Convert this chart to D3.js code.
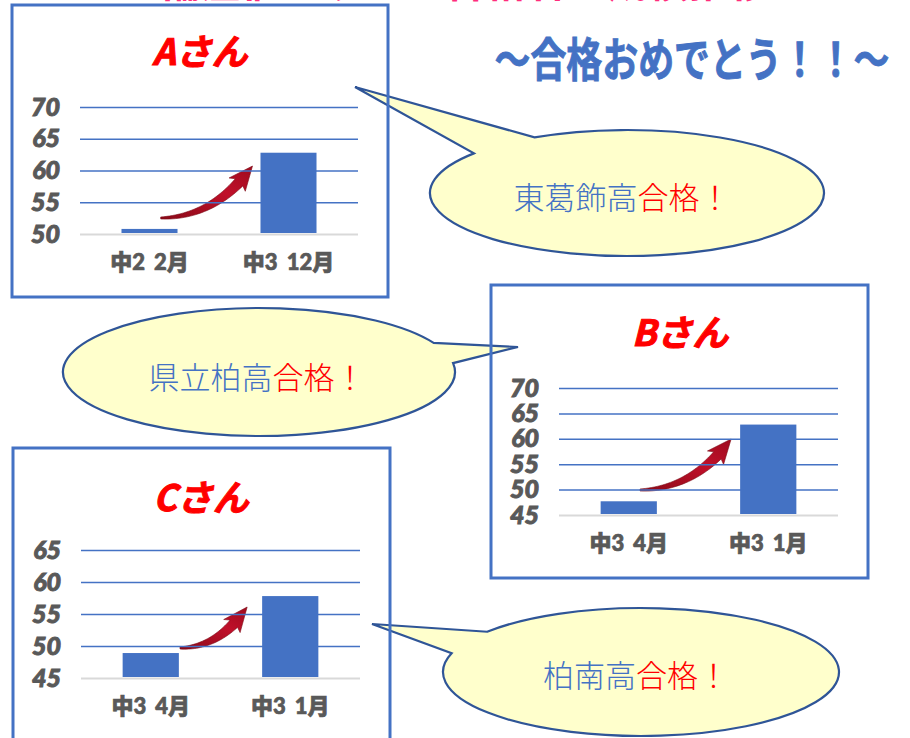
<!DOCTYPE html>
<html><head><meta charset="utf-8">
<script src="https://cdn.jsdelivr.net/npm/d3@7"></script>
<style>
html,body{margin:0;padding:0;background:#fff;overflow:hidden}
svg{display:block}
</style></head><body>
<svg id="c" width="910" height="738"></svg>
<script>
// ---- data ----
const panelTitles = ["Aさん", "Bさん", "Cさん"];
const categoriesA = ["中2 2月", "中3 12月"];
const valuesA = [50.8, 62.8];
const ticksA = [50, 55, 60, 65, 70];
const categoriesB = ["中3 4月", "中3 1月"];
const valuesB = [47.7, 62.8];
const ticksB = [45, 50, 55, 60, 65, 70];
const categoriesC = ["中3 4月", "中3 1月"];
const valuesC = [48.9, 57.8];
const ticksC = [45, 50, 55, 60, 65];
const schoolNames = ["東葛飾高", "県立柏高", "柏南高"];
const passText = "合格！";
const headline = "～合格おめでとう！！～";
const topTitle = "偏差値アップ！合格者の成績推移";

// ---- layout ----
const BLUE = "#4472C4", RED = "#FF0000", GREY = "#595959";
const FONT = "'Noto Sans CJK JP','Noto Sans',sans-serif";
const NUMFONT = "Lato,'Noto Sans CJK JP',sans-serif";
const svg = d3.select("#c");
svg.append("rect").attr("width", 910).attr("height", 738).attr("fill", "#fff");

const defs = svg.append("defs");
const grad = defs.append("linearGradient").attr("id", "arrowGrad")
  .attr("x1", "0%").attr("y1", "100%").attr("x2", "100%").attr("y2", "0%");
grad.append("stop").attr("offset", "0%").attr("stop-color", "#8a0a18");
grad.append("stop").attr("offset", "60%").attr("stop-color", "#c0102a");
grad.append("stop").attr("offset", "100%").attr("stop-color", "#9e0b1e");

// top (cropped) pink title
svg.append("text").attr("x", 465).attr("y", -3).attr("text-anchor", "middle")
  .attr("font-family", FONT).attr("font-weight", 700).attr("font-size", 40)
  .attr("fill", "#ff2d7d").attr("textLength", 610).attr("lengthAdjust", "spacingAndGlyphs")
  .text(topTitle);

// headline
svg.append("text").attr("transform", "translate(692,56) scale(1,1.15)")
  .attr("text-anchor", "middle").attr("dominant-baseline", "central")
  .attr("font-family", FONT).attr("font-weight", 700).attr("font-size", 40)
  .attr("fill", BLUE).attr("stroke", BLUE).attr("stroke-width", 0.8)
  .attr("textLength", 395).attr("lengthAdjust", "spacingAndGlyphs")
  .text(headline);

// ---- callout bubbles ----
const bubbles = [
  {name: schoolNames[0], cx: 627, cy: 193, rx: 197, ry: 63, a1: -118, a2: -141, tip: [355, 87], tx: 622, ty: 195},
  {name: schoolNames[1], cx: 259, cy: 372, rx: 196, ry: 64, a1: -27, a2: -8, tip: [518, 347], tx: 257, ty: 375},
  {name: schoolNames[2], cx: 641, cy: 672, rx: 198, ry: 64, a1: -141, a2: -163, tip: [372, 624], tx: 636, ty: 673}
];
bubbles.forEach(b => {
  const P = a => [b.cx + b.rx * Math.cos(a * Math.PI / 180), b.cy + b.ry * Math.sin(a * Math.PI / 180)];
  const p1 = P(b.a1), p2 = P(b.a2);
  const travel = ((b.a2 - b.a1) % 360 + 360) % 360;
  const sweep = travel > 180 ? 1 : 0;
  const d = `M${p1[0]},${p1[1]} A${b.rx},${b.ry} 0 1 ${sweep} ${p2[0]},${p2[1]} L${b.tip[0]},${b.tip[1]} Z`;
  svg.append("path").attr("d", d).attr("fill", "#FFFFCC")
    .attr("stroke", "#2F5597").attr("stroke-width", 2.2).attr("stroke-linejoin", "miter");
  const t = svg.append("text").attr("x", b.tx).attr("y", b.ty).attr("text-anchor", "middle")
    .attr("dominant-baseline", "central").attr("font-family", FONT)
    .attr("font-weight", 300).attr("font-size", 31);
  t.append("tspan").attr("fill", BLUE).text(b.name);
  t.append("tspan").attr("fill", RED).text(passText);
});

// ---- arrow helper ----
function arrowPath(x0, y0, x1, y1) {
  const C = [x0 + (x1 - x0) * 0.6, y0 + (y1 - y0) * 0.02];
  const B = t => [(1 - t) * (1 - t) * x0 + 2 * (1 - t) * t * C[0] + t * t * x1,
                  (1 - t) * (1 - t) * y0 + 2 * (1 - t) * t * C[1] + t * t * y1];
  const D = t => [2 * (1 - t) * (C[0] - x0) + 2 * t * (x1 - C[0]),
                  2 * (1 - t) * (C[1] - y0) + 2 * t * (y1 - C[1])];
  const headLen = 21;
  let tEnd = 1;
  for (let t = 1; t > 0; t -= 0.005) {
    const p = B(t);
    if (Math.hypot(x1 - p[0], y1 - p[1]) >= headLen) { tEnd = t; break; }
  }
  const L = [], R = [];
  const N = 30;
  for (let i = 0; i <= N; i++) {
    const t = tEnd * i / N;
    const p = B(t), d = D(t), len = Math.hypot(d[0], d[1]);
    const n = [-d[1] / len, d[0] / len];
    const w = 1 + 4.2 * Math.pow(i / N, 0.9);
    L.push([p[0] + n[0] * w, p[1] + n[1] * w]);
    R.push([p[0] - n[0] * w, p[1] - n[1] * w]);
  }
  const base = B(tEnd);
  const dir = [x1 - base[0], y1 - base[1]], dl = Math.hypot(dir[0], dir[1]);
  const n = [-dir[1] / dl, dir[0] / dl];
  const hw = 10.5;
  const back = [base[0] - dir[0] / dl * 3, base[1] - dir[1] / dl * 3];
  const pts = [...L, [back[0] + n[0] * hw, back[1] + n[1] * hw], [x1, y1],
               [back[0] - n[0] * hw, back[1] - n[1] * hw], ...R.reverse()];
  return "M" + pts.map(p => p.join(",")).join("L") + "Z";
}

// ---- panels ----
const panels = [
  {title: panelTitles[0], cats: categoriesA, vals: valuesA, ticks: ticksA,
   box: [12, 5, 376, 292], tpos: [200, 49], plot: {x0: 80, x1: 358, y0: 234, y1: 107},
   arrow: {tk: 0.7, tdy: 16, hdx: -8, hdy: 68}},
  {title: panelTitles[1], cats: categoriesB, vals: valuesB, ticks: ticksB,
   box: [491, 285, 377, 293], tpos: [680, 330], plot: {x0: 559, x1: 838, y0: 515, y1: 388},
   arrow: {tk: 0.7, tdy: 25, hdx: -9, hdy: 76}},
  {title: panelTitles[2], cats: categoriesC, vals: valuesC, ticks: ticksC,
   box: [13, 448, 377, 310], tpos: [201, 495], plot: {x0: 81, x1: 360, y0: 678, y1: 550},
   arrow: {tk: 1.02, tdy: 30, hdx: -15, hdy: 71}}
];

panels.forEach(p => {
  const g = svg.append("g");
  const x = d3.scaleBand().domain(p.cats).range([p.plot.x0, p.plot.x1])
    .paddingInner(0.597).paddingOuter(0.2985);
  const y = d3.scaleLinear().domain([d3.min(p.ticks), d3.max(p.ticks)])
    .range([p.plot.y0, p.plot.y1]);
  const bw = x.bandwidth();

  // title
  g.append("text").attr("x", p.tpos[0]).attr("y", p.tpos[1]).attr("text-anchor", "middle")
    .attr("dominant-baseline", "central").attr("font-family", FONT)
    .attr("font-weight", 700).attr("font-style", "italic").attr("font-size", 36)
    .attr("fill", RED).attr("stroke", RED).attr("stroke-width", 1).text(p.title);

  // arrow (behind gridlines)
  const ax0 = x(p.cats[0]) + bw * p.arrow.tk, ay0 = y.range()[0] - p.arrow.tdy;
  const ax1 = x(p.cats[1]) + p.arrow.hdx, ay1 = y.range()[0] - p.arrow.hdy;
  g.append("path").attr("d", arrowPath(ax0, ay0, ax1, ay1))
    .attr("fill", "url(#arrowGrad)").attr("stroke", "#7a0814").attr("stroke-width", 0.6);

  // y axis with gridlines
  const yAxis = d3.axisLeft(y).tickValues(p.ticks).tickSize(-(p.plot.x1 - p.plot.x0))
    .tickPadding(20).tickFormat(d3.format("d"));
  const ya = g.append("g").attr("transform", `translate(${p.plot.x0},0)`).call(yAxis);
  ya.select(".domain").remove();
  ya.selectAll(".tick line").attr("stroke", d => d === d3.min(p.ticks) ? "#D9D9D9" : BLUE)
    .attr("stroke-width", d => d === d3.min(p.ticks) ? 2 : 1.5);
  ya.selectAll(".tick text").attr("font-family", NUMFONT).attr("font-weight", 900)
    .attr("font-style", "italic").attr("font-size", 25).attr("fill", GREY)
    .attr("stroke", GREY).attr("stroke-width", 1);

  // bars
  g.selectAll("rect.bar").data(p.vals).join("rect").attr("class", "bar")
    .attr("x", (d, i) => x(p.cats[i])).attr("width", bw)
    .attr("y", d => y(d)).attr("height", d => y.range()[0] - y(d) - 1)
    .attr("fill", BLUE);

  // x axis
  const xAxis = d3.axisBottom(x).tickSize(0).tickPadding(20);
  const xa = g.append("g").attr("transform", `translate(0,${p.plot.y0})`).call(xAxis);
  xa.select(".domain").remove();
  xa.selectAll(".tick text").attr("font-family", NUMFONT).attr("font-weight", 900)
    .attr("font-size", 22).attr("fill", GREY).attr("stroke", GREY).attr("stroke-width", 0.7)
    .attr("word-spacing", 4);

  // panel border (drawn over callout tails)
  svg.append("rect").attr("x", p.box[0]).attr("y", p.box[1]).attr("width", p.box[2])
    .attr("height", p.box[3]).attr("fill", "none").attr("stroke", BLUE).attr("stroke-width", 3);
});
</script>
</body></html>
